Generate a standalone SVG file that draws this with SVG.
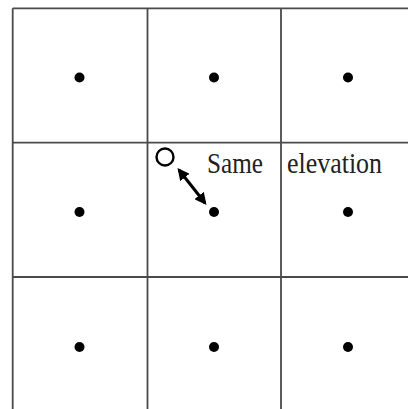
<svg xmlns="http://www.w3.org/2000/svg" width="408" height="409" viewBox="0 0 408 409">
<style>
.grid{stroke:#4a4a4a;stroke-width:1.8;fill:none}
.dot{fill:#000}
.lbl{font-family:"Liberation Serif","Times New Roman",serif;font-size:30px;fill:#222}
</style>
<defs>
<marker id="ah" viewBox="0 0 10 10" refX="8" refY="5" markerWidth="12" markerHeight="12" orient="auto-start-reverse" markerUnits="userSpaceOnUse">
<path d="M0,0 L10,5 L0,10 z" fill="#000"/>
</marker>
</defs>
<rect width="408" height="409" fill="#fff"/>
<g id="grid">
<line class="grid" x1="12.7" y1="8.3" x2="408" y2="8.3"/>
<line class="grid" x1="12.7" y1="142.7" x2="408" y2="142.7"/>
<line class="grid" x1="12.7" y1="277" x2="408" y2="277"/>
<line class="grid" x1="12.7" y1="8.3" x2="12.7" y2="409"/>
<line class="grid" x1="147.5" y1="8.3" x2="147.5" y2="409"/>
<line class="grid" x1="281" y1="8.3" x2="281" y2="409"/>
</g>
<g id="n11"><circle class="dot" cx="79.5" cy="77.5" r="5"/></g>
<g id="n12"><circle class="dot" cx="214" cy="77.5" r="5"/></g>
<g id="n13"><circle class="dot" cx="348" cy="77.5" r="5"/></g>
<g id="n21"><circle class="dot" cx="79.5" cy="212" r="5"/></g>
<g id="n22"><circle class="dot" cx="214" cy="212" r="5"/></g>
<g id="n23"><circle class="dot" cx="348" cy="212" r="5"/></g>
<g id="n31"><circle class="dot" cx="79.5" cy="347" r="5"/></g>
<g id="n32"><circle class="dot" cx="214" cy="347" r="5"/></g>
<g id="n33"><circle class="dot" cx="348" cy="347" r="5"/></g>
<g id="point"><circle cx="165" cy="157" r="8.5" fill="none" stroke="#000" stroke-width="2.4"/></g>
<g id="connectors">
<line x1="179" y1="170" x2="205" y2="203" stroke="#000" stroke-width="3" marker-start="url(#ah)" marker-end="url(#ah)"/>
</g>
<g id="label">
<text class="lbl" x="207" y="173" textLength="56" lengthAdjust="spacingAndGlyphs">Same</text>
<text class="lbl" x="287" y="173" textLength="95" lengthAdjust="spacingAndGlyphs">elevation</text>
</g>
</svg>
